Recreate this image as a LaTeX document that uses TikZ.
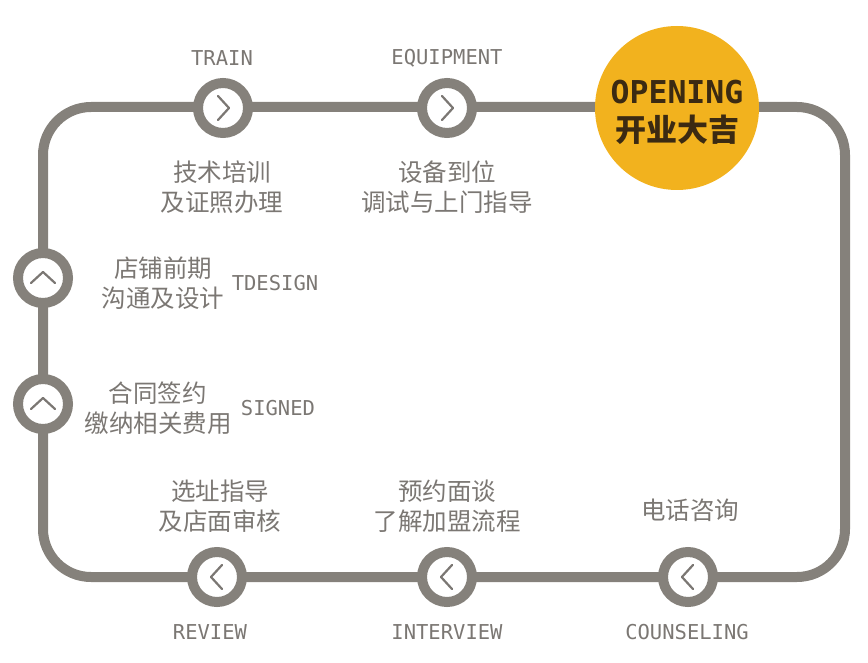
\documentclass[tikz,border=0pt]{standalone}
\usepackage{fontspec}
\newfontfamily\cjk{Noto Sans CJK SC}
\newfontfamily\mono{DejaVu Sans Mono}
\definecolor{track}{HTML}{85817B}
\definecolor{txt}{HTML}{7B7773}
\definecolor{gold}{HTML}{F2B21E}
\definecolor{brown}{HTML}{3B2A12}
\tikzset{
  ring/.style={circle, draw=track, line width=10pt, fill=white, minimum size=50pt, inner sep=0pt},
  cn/.style={font=\cjk\fontsize{24.5}{30}\selectfont, text=txt, align=center},
  en/.style={font=\mono\fontsize{20.5}{24}\selectfont, text=txt},
  chev/.style={draw=txt, line width=2.2pt, line cap=round, line join=round},
}
\newcommand{\chevron}[2]{% node, angle
  \draw[chev, rotate around={#2:(#1.center)}] ([shift={(-5,-12)}]#1.center) -- ([shift={(6,0)}]#1.center) -- ([shift={(-5,12)}]#1.center);
}

\begin{document}
\begin{tikzpicture}[x=1pt, y=-1pt]
\useasboundingbox (0,0) rectangle (868,663);
% the track
\draw[track, line width=10pt, rounded corners=48pt] (43,107) rectangle (845,577);
% opening
\node[circle, fill=gold, minimum size=164pt, inner sep=0pt] (open) at (677,108) {};
\node[font=\mono\bfseries\fontsize{31.5}{34}\selectfont, text=brown] (opentxt) at (677,92) {OPENING};
\node[font=\cjk\bfseries\fontsize{31}{34}\selectfont, text=brown] (opencn) at (677,130) {开业大吉};
% steps on top
\node[ring] (train) at (223,108) {};
\node[ring] (equip) at (447,108) {};
\chevron{train}{0}
\chevron{equip}{0}
\node[en] (trainen) at (222,58) {TRAIN};
\node[en] (equipen) at (447,58) {EQUIPMENT};
\node[cn] (traincn) at (222,187) {技术培训\\及证照办理};
\node[cn] (equipcn) at (447,187) {设备到位\\调试与上门指导};
% left side
\node[ring] (design) at (43,278) {};
\node[ring] (signed) at (43,404) {};
\chevron{design}{90}
\chevron{signed}{90}
\node[cn] (designcn) at (163,283) {店铺前期\\沟通及设计};
\node[en] (designen) at (275,283) {TDESIGN};
\node[cn] (signedcn) at (158,408) {合同签约\\缴纳相关费用};
\node[en] (signeden) at (278,408) {SIGNED};
% bottom
\node[ring] (review) at (217,577) {};
\node[ring] (interview) at (447,577) {};
\node[ring] (counsel) at (688,577) {};
\chevron{review}{180}
\chevron{interview}{180}
\chevron{counsel}{180}
\node[cn] (reviewcn) at (220,506) {选址指导\\及店面审核};
\node[cn] (interviewcn) at (447,506) {预约面谈\\了解加盟流程};
\node[cn] (counselcn) at (690,510) {电话咨询};
\node[en] (reviewen) at (210,632) {REVIEW};
\node[en] (interviewen) at (447,632) {INTERVIEW};
\node[en] (counselen) at (687,632) {COUNSELING};
\end{tikzpicture}
\end{document}
